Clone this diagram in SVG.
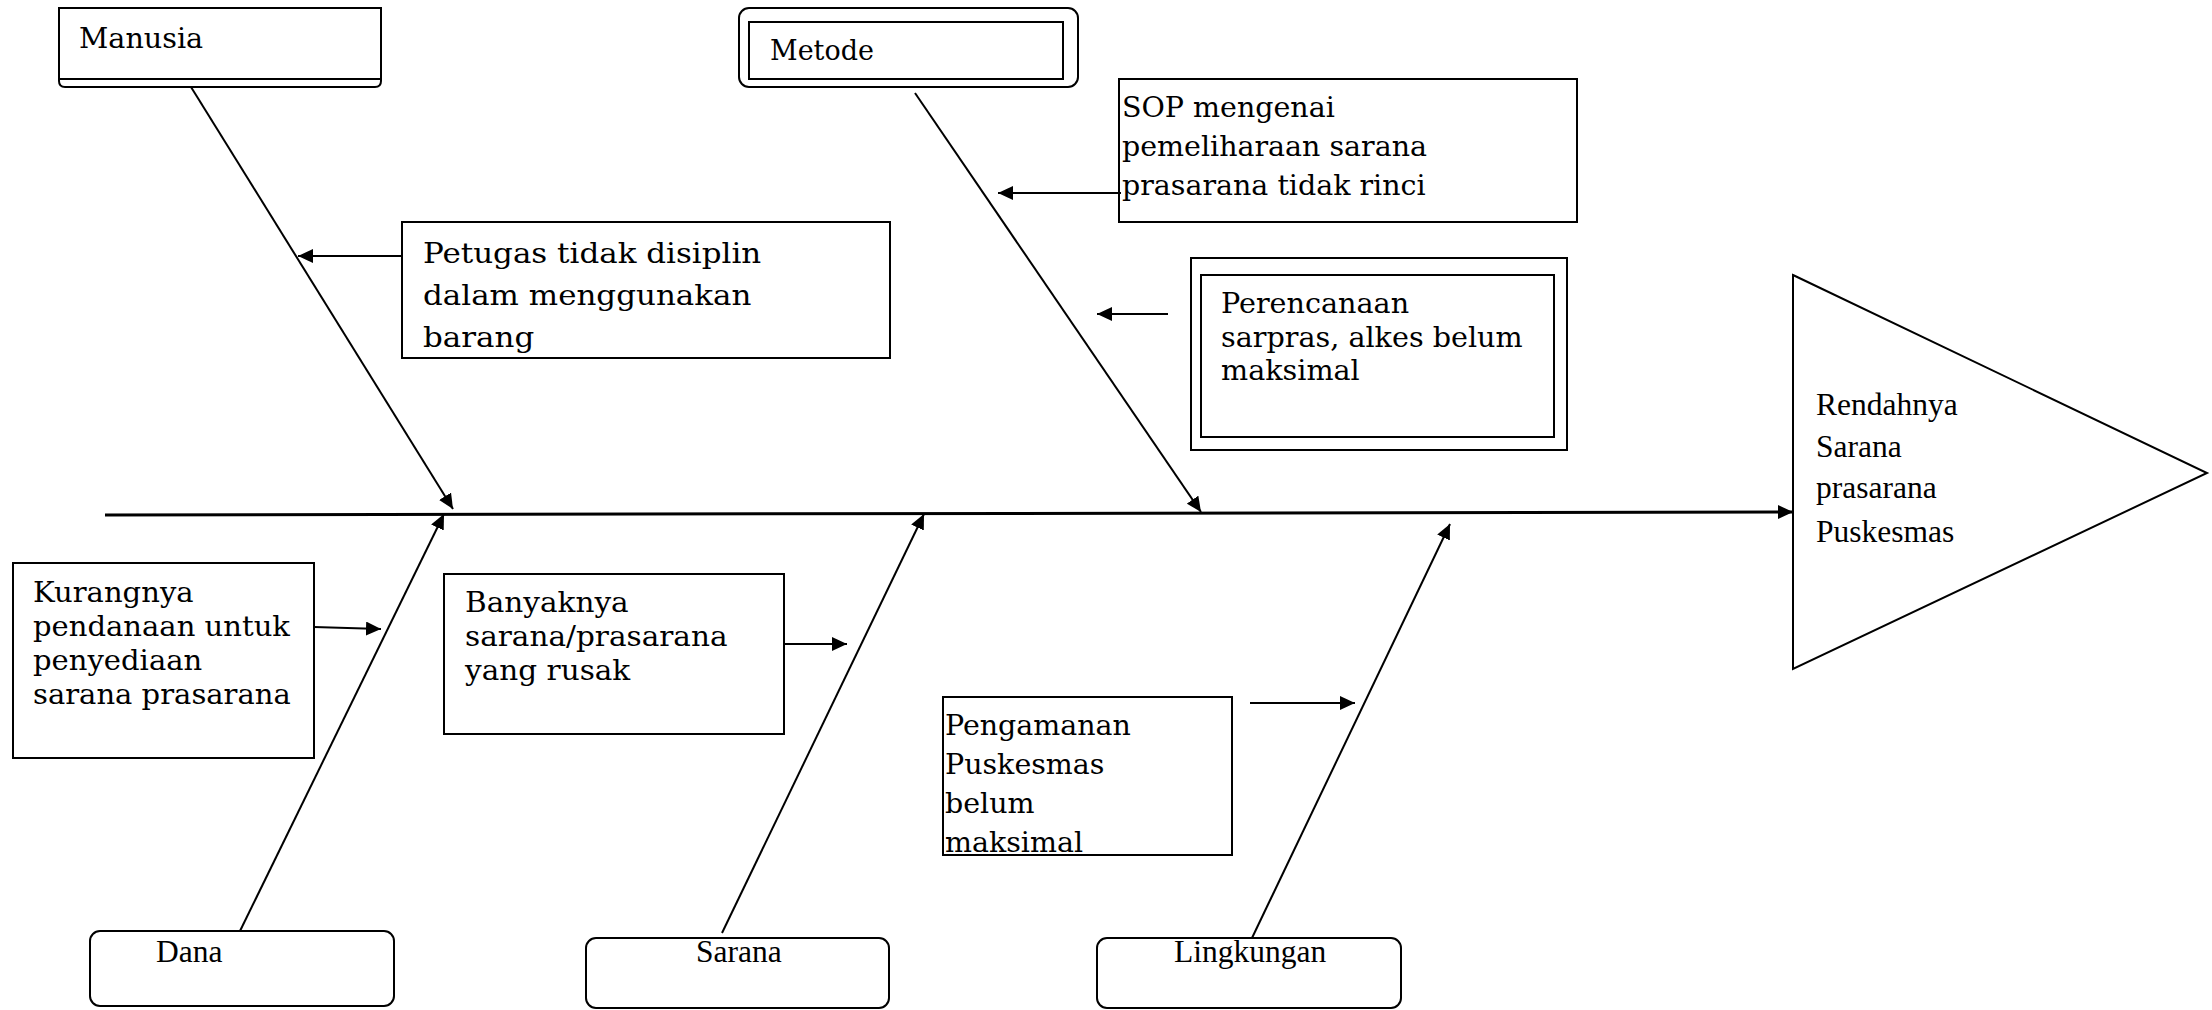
<svg xmlns="http://www.w3.org/2000/svg" width="2212" height="1010" viewBox="0 0 2212 1010">
<style>
.box{fill:none;stroke:#000;stroke-width:2}
.t{font-family:"DejaVu Serif","Liberation Serif",serif;font-size:27.4px;fill:#000}
.tr{font-family:"Liberation Serif","Times New Roman",serif;font-size:31.5px;fill:#000}
.ln{stroke:#000;stroke-width:2;fill:none}
.sp{stroke:#000;stroke-width:3;fill:none}
</style>
<defs>
<marker id="ah" markerUnits="userSpaceOnUse" markerWidth="16" markerHeight="14" refX="15" refY="7" orient="auto">
<path d="M0,0 L15,7 L0,14 Z" fill="#000"/>
</marker>
</defs>
<rect width="2212" height="1010" fill="#fff"/>
<g id="manusia">
<path class="box" d="M59,8 H381 V81 Q381,87 375,87 H65 Q59,87 59,81 Z"/>
<line class="ln" x1="59" y1="79" x2="381" y2="79"/>
<text class="t" transform="translate(79,0) scale(1.045,1)" x="0" y="48">Manusia</text>
</g>
<g id="metode">
<rect class="box" x="739" y="8" width="339" height="79" rx="10"/>
<rect class="box" x="749" y="22" width="314" height="57"/>
<text class="t" transform="translate(770,0) scale(0.985,1)" x="0" y="60">Metode</text>
</g>
<g id="petugas">
<rect class="box" x="402" y="222" width="488" height="136"/>
<text class="t" transform="translate(423,0) scale(1.13,1)"><tspan x="0" y="263">Petugas tidak disiplin</tspan><tspan x="0" y="305">dalam menggunakan</tspan><tspan x="0" y="347">barang</tspan></text>
</g>
<g id="sop">
<rect class="box" x="1119" y="79" width="458" height="143"/>
<text class="t" transform="translate(1122,0) scale(1.04,1)"><tspan x="0" y="117">SOP mengenai</tspan><tspan x="0" y="156">pemeliharaan sarana</tspan><tspan x="0" y="195">prasarana tidak rinci</tspan></text>
</g>
<g id="perencanaan">
<rect class="box" x="1191" y="258" width="376" height="192"/>
<rect class="box" x="1201" y="275" width="353" height="162"/>
<text class="t" transform="translate(1221,0) scale(1.045,1)"><tspan x="0" y="313">Perencanaan</tspan><tspan x="0" y="347">sarpras, alkes belum</tspan><tspan x="0" y="380">maksimal</tspan></text>
</g>
<g id="masalah">
<polygon class="box" points="1793,275 2207,473 1793,669"/>
<text class="tr"><tspan x="1816" y="415">Rendahnya</tspan><tspan x="1816" y="457">Sarana</tspan><tspan x="1816" y="498">prasarana</tspan><tspan x="1816" y="542">Puskesmas</tspan></text>
</g>
<g id="kurangnya">
<rect class="box" x="13" y="563" width="301" height="195"/>
<text class="t" transform="translate(33,0) scale(1.06,1)"><tspan x="0" y="602">Kurangnya</tspan><tspan x="0" y="636">pendanaan untuk</tspan><tspan x="0" y="670">penyediaan</tspan><tspan x="0" y="704">sarana prasarana</tspan></text>
</g>
<g id="banyaknya">
<rect class="box" x="444" y="574" width="340" height="160"/>
<text class="t" transform="translate(465,0) scale(1.077,1)"><tspan x="0" y="612">Banyaknya</tspan><tspan x="0" y="646">sarana/prasarana</tspan><tspan x="0" y="680">yang rusak</tspan></text>
</g>
<g id="pengamanan">
<rect class="box" x="943" y="697" width="289" height="158"/>
<text class="t" transform="translate(945,0) scale(1.04,1)"><tspan x="0" y="735">Pengamanan</tspan><tspan x="0" y="774">Puskesmas</tspan><tspan x="0" y="813">belum</tspan><tspan x="0" y="852">maksimal</tspan></text>
</g>
<g id="dana">
<rect class="box" x="90" y="931" width="304" height="75" rx="10"/>
<text class="tr" x="156" y="962">Dana</text>
</g>
<g id="sarana">
<rect class="box" x="586" y="938" width="303" height="70" rx="10"/>
<text class="tr" x="696" y="962">Sarana</text>
</g>
<g id="lingkungan">
<rect class="box" x="1097" y="938" width="304" height="70" rx="10"/>
<text class="tr" x="1174" y="962">Lingkungan</text>
</g>
<g id="connectors">
<line class="sp" x1="105" y1="515" x2="1793" y2="512" marker-end="url(#ah)"/>
<line class="ln" x1="191" y1="87" x2="453" y2="509" marker-end="url(#ah)"/>
<line class="ln" x1="915" y1="93" x2="1201" y2="512" marker-end="url(#ah)"/>
<line class="ln" x1="240" y1="931" x2="444" y2="514" marker-end="url(#ah)"/>
<line class="ln" x1="722" y1="933" x2="924" y2="514" marker-end="url(#ah)"/>
<line class="ln" x1="1252" y1="938" x2="1450" y2="524" marker-end="url(#ah)"/>
<line class="ln" x1="402" y1="256" x2="298" y2="256" marker-end="url(#ah)"/>
<line class="ln" x1="1121" y1="193" x2="998" y2="193" marker-end="url(#ah)"/>
<line class="ln" x1="1168" y1="314" x2="1097" y2="314" marker-end="url(#ah)"/>
<line class="ln" x1="314" y1="627" x2="381" y2="629" marker-end="url(#ah)"/>
<line class="ln" x1="784" y1="644" x2="847" y2="644" marker-end="url(#ah)"/>
<line class="ln" x1="1250" y1="703" x2="1355" y2="703" marker-end="url(#ah)"/>
</g>
</svg>
